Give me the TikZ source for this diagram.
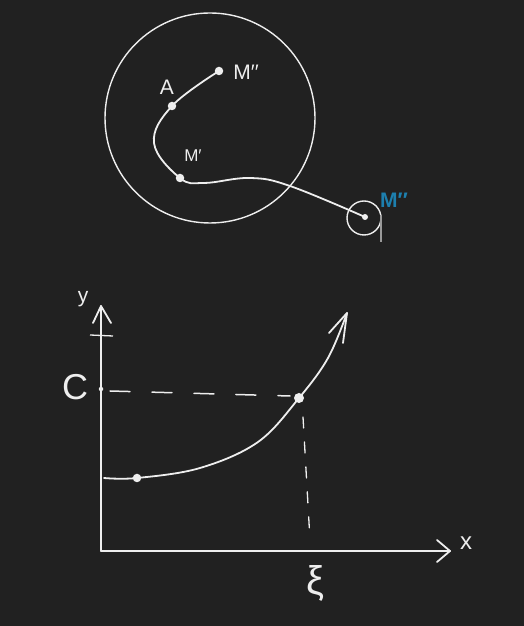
\documentclass[tikz,border=0pt]{standalone}
\usepackage{fontspec}
\setmainfont{Liberation Sans}
\definecolor{bg}{HTML}{212121}
\definecolor{ink}{HTML}{EEEEEE}
\definecolor{tick}{HTML}{9A9A9A}
\definecolor{blueink}{HTML}{1D7FAE}
\tikzset{
  chalk/.style={draw=ink, line width=1.8pt, line cap=round, line join=round},
  thin chalk/.style={draw=ink, line width=1.3pt},
  dotmark/.style={circle, fill=ink, inner sep=0pt, minimum size=8.5pt},
  smalldot/.style={circle, fill=ink, inner sep=0pt, minimum size=4.5pt},
  lbl/.style={text=ink, inner sep=0pt},
  dashh/.style={draw=ink, line width=1.5pt, line cap=round, dash pattern=on 20pt off 22pt},
  dashv/.style={draw=ink!80, line width=1.3pt, line cap=round, dash pattern=on 11pt off 14pt}
}
\begin{document}
\begin{tikzpicture}[x=1pt,y=1pt]
\fill[bg] (0,0) rectangle (524,626);
\useasboundingbox (0,0) rectangle (524,626);

% ---------- top figure ----------
\node[draw=ink, line width=1.4pt, circle, minimum size=210pt, inner sep=0pt] (big) at (210,508) {};
\node[draw=ink, line width=1.4pt, circle, minimum size=34pt, inner sep=0pt] (small) at (364,408) {};

\node[dotmark] (Mpp) at (219,555) {};
\node[dotmark] (A) at (172,520) {};
\coordinate (L) at (154,483);
\node[dotmark] (Mp) at (180,448) {};
\coordinate (c1) at (204,443);
\coordinate (c2) at (250,448);
\coordinate (c3) at (290,440);
\node[smalldot, minimum size=6pt] (P) at (365,409) {};

\draw[chalk] plot[smooth, tension=0.65] coordinates {(Mpp) (A) (L) (Mp) (c1) (c2) (c3) (P)};

\coordinate (t1) at (381,411);
\coordinate (t2) at (381,384);
\draw[draw=tick, line width=1.5pt] (t1) -- (t2);

\node[lbl, font=\fontsize{21}{21}\selectfont] (lA) at (167,539) {A};
\node[lbl, font=\fontsize{21}{21}\selectfont] (lMpp) at (246,554) {M′′};
\node[lbl, font=\fontsize{17}{17}\selectfont] (lMp) at (193,470) {M′};
\node[text=blueink, inner sep=0pt, font=\bfseries\fontsize{21}{21}\selectfont] (lMb) at (394,426) {M′′};

% ---------- graph ----------
\coordinate (O) at (101,75);
\coordinate (Ytip) at (101,320);
\coordinate (Xtip) at (450,75);
\draw[chalk] (O) -- (Ytip);
\draw[chalk] (O) -- (Xtip);
\coordinate (ya1) at (93,303);
\coordinate (ya2) at (111,303);
\draw[chalk] (ya1) -- (Ytip) -- (ya2);
\coordinate (xa1) at (437,86);
\coordinate (xa2) at (437,64);
\draw[chalk] (xa1) -- (Xtip) -- (xa2);
\coordinate (yt1) at (90,291);
\coordinate (yt2) at (113,290);
\draw[thin chalk] (yt1) -- (yt2);

\node[lbl, font=\fontsize{21}{21}\selectfont] (ly) at (83,327) {y};
\node[lbl, font=\fontsize{24}{24}\selectfont] (lx) at (466,83) {x};
\node[lbl, font=\fontsize{36}{36}\selectfont] (lC) at (75,239) {C};
\node[lbl, font=\fontsize{40}{40}\selectfont] (lxi) at (315,43) {ξ};

\node[smalldot] (Cpt) at (101,237) {};
\coordinate (s0) at (104,148);
\node[dotmark] (B) at (137,148) {};
\coordinate (g1) at (200,158);
\coordinate (g2) at (258,184);
\node[dotmark, minimum size=10pt] (Q) at (299,228) {};
\coordinate (g3) at (328,268);
\coordinate (Ctip) at (347,313);
\draw[chalk] plot[smooth, tension=0.6] coordinates {(s0) (B) (g1) (g2) (Q) (g3) (Ctip)};
\coordinate (ca1) at (329,293);
\coordinate (ca2) at (343,283);
\draw[chalk] (ca1) -- (Ctip) -- (ca2);

\coordinate (dh1) at (110,235);
\coordinate (dh2) at (290,230);
\draw[dashh] (dh1) -- (dh2);
\coordinate (dv1) at (303,209);
\coordinate (dv2) at (310,86);
\draw[dashv] (dv1) -- (dv2);
\end{tikzpicture}
\end{document}
